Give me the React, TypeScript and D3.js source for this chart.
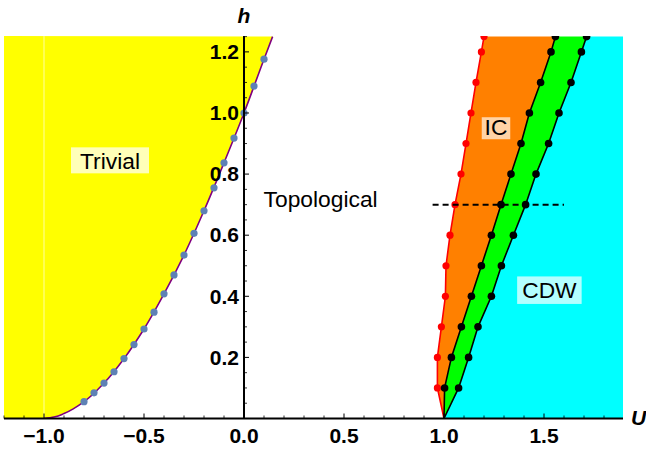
import React from "react";
import * as d3 from "d3";

// ---- data ----
// Trivial / Topological boundary: numerical points (blue dots)
const trivialU = [-0.8, -0.75, -0.7, -0.65, -0.6, -0.55, -0.5, -0.45, -0.4, -0.35, -0.3, -0.25, -0.2, -0.15, -0.1, -0.05, 0.0, 0.05, 0.1];
const trivialH = [0.055, 0.084, 0.116, 0.153, 0.196, 0.242, 0.293, 0.348, 0.408, 0.47, 0.535, 0.606, 0.68, 0.755, 0.837, 0.918, 1.0, 1.088, 1.176];
// analytic boundary curve (purple)
const curveU = [-1.0, -0.95, -0.9, -0.85, -0.8, -0.7, -0.6, -0.5, -0.4, -0.3, -0.2, -0.1, 0.0, 0.1, 0.143];
const curveH = [0.0, 0.005, 0.016, 0.033, 0.055, 0.116, 0.196, 0.293, 0.408, 0.535, 0.68, 0.837, 1.0, 1.176, 1.25];

// phase boundaries on the right
const boundaryH = [0.0, 0.1, 0.2, 0.3, 0.4, 0.5, 0.6, 0.7, 0.8, 0.9, 1.0, 1.1, 1.2, 1.25];
const redU = [1.0, 0.967, 0.967, 0.987, 1.007, 1.01, 1.03, 1.055, 1.085, 1.11, 1.135, 1.16, 1.187, 1.2];
const black1U = [1.0, 1.003, 1.037, 1.087, 1.137, 1.187, 1.237, 1.285, 1.335, 1.385, 1.427, 1.483, 1.535, 1.557];
const black2U = [1.0, 1.073, 1.123, 1.17, 1.237, 1.287, 1.347, 1.408, 1.46, 1.523, 1.575, 1.635, 1.687, 1.713];

// dashed cut
const cutH = 0.7;
const cutU = [0.943, 1.6];

const xDomain = [-1.2, 1.895];
const yDomain = [0, 1.252];
const xMajor = [-1.0, -0.5, 0.0, 0.5, 1.0, 1.5];
const xMajorLabels = ["\u22121.0", "\u22120.5", "0.0", "0.5", "1.0", "1.5"];
const yMajor = [0.2, 0.4, 0.6, 0.8, 1.0, 1.2];
const yMajorLabels = ["0.2", "0.4", "0.6", "0.8", "1.0", "1.2"];

const labelTexts = ["Trivial", "Topological", "IC", "CDW"];
const labelU = [-0.67, 0.383, 1.26, 1.527];
const labelH = [0.845, 0.72, 0.955, 0.42];
const labelBg = ["#FFFFB8", "none", "#FFD3A6", "#B3FFFF"];

export default function App() {
  const W = 646, H = 452;
  const x = d3.scaleLinear().domain(xDomain).range([4, 623]);
  const y = d3.scaleLinear().domain(yDomain).range([418.5, 36]);
  const x0 = x(xDomain[0]), x1 = x(xDomain[1]);
  const yTop = y(yDomain[1]), yBot = y(0);

  const line = d3.line<[number, number]>().x((d) => x(d[0])).y((d) => y(d[1]));
  const smooth = d3.line<[number, number]>().x((d) => x(d[0])).y((d) => y(d[1])).curve(d3.curveMonotoneY);

  const curvePts: [number, number][] = curveU.map((u, i) => [u, curveH[i]]);
  const redPts: [number, number][] = redU.map((u, i) => [u, boundaryH[i]]);
  const b1Pts: [number, number][] = black1U.map((u, i) => [u, boundaryH[i]]);
  const b2Pts: [number, number][] = black2U.map((u, i) => [u, boundaryH[i]]);

  const yellowPath =
    `M${x0},${yBot}L${x(curveU[0])},${yBot}` +
    smooth(curvePts)!.replace(/^M/, "L") +
    `L${x0},${yTop}Z`;
  const orangePath = line(redPts)! + line([...b1Pts].reverse())!.replace(/^M/, "L") + "Z";
  const greenPath = line(b1Pts)! + line([...b2Pts].reverse())!.replace(/^M/, "L") + "Z";
  const cyanPath =
    line(b2Pts)! + `L${x1},${y(boundaryH[boundaryH.length - 1])}L${x1},${yBot}Z`;

  const xMinor = d3.range(-12, 19).map((k) => k / 10).filter((v) => !xMajor.some((m) => Math.abs(m - v) < 1e-6));
  const yMinor = d3.range(1, 26).map((k) => k / 20).filter((v) => !yMajor.some((m) => Math.abs(m - v) < 1e-6));

  const labelFont = "'Liberation Sans', Arial, sans-serif";
  const boxW = [78, 0, 28.5, 64.5];
  const boxH = [26, 0, 22, 27.5];
  const boxDy = [0, 0, 1.5, 0];

  return (
    <div style={{ position: "absolute", left: 0, top: 0 }}>
      <svg width={W} height={H} style={{ display: "block", background: "#fff" }}>
        <defs>
          <clipPath id="plot">
            <rect x={x0} y={yTop} width={x1 - x0} height={yBot - yTop} />
          </clipPath>
        </defs>
        <g clipPath="url(#plot)">
          <path d={yellowPath} fill="#FFFF00" />
          <line x1={x(-1)} x2={x(-1)} y1={yTop} y2={yBot} stroke="#FFFFA0" strokeWidth={1} />
          <path d={orangePath} fill="#FF8000" />
          <path d={greenPath} fill="#00FF00" />
          <path d={cyanPath} fill="#00FFFF" />
          <path d={smooth(curvePts)!} fill="none" stroke="#800080" strokeWidth={1.6} />
          <path d={line(redPts)!} fill="none" stroke="#FF0000" strokeWidth={1.6} />
          <path d={line(b1Pts)!} fill="none" stroke="#000" strokeWidth={1.6} />
          <path d={line(b2Pts)!} fill="none" stroke="#000" strokeWidth={1.6} />
          {trivialU.map((u, i) => (
            <circle key={"t" + i} cx={x(u)} cy={y(trivialH[i])} r={3.6} fill="#5E81B5" />
          ))}
          {redPts.slice(1).map((p, i) => (
            <circle key={"r" + i} cx={x(p[0])} cy={y(p[1])} r={3.6} fill="#FF0000" />
          ))}
          {b1Pts.slice(1).map((p, i) => (
            <circle key={"b1" + i} cx={x(p[0])} cy={y(p[1])} r={3.8} fill="#000" />
          ))}
          {b2Pts.slice(1).map((p, i) => (
            <circle key={"b2" + i} cx={x(p[0])} cy={y(p[1])} r={3.8} fill="#000" />
          ))}
        </g>
        <line x1={x(cutU[0])} x2={x(cutU[1])} y1={y(cutH)} y2={y(cutH)} stroke="#000" strokeWidth={2} strokeDasharray="6,4" />

        {/* region labels */}
        {labelTexts.map((t, i) => {
          const cx = x(labelU[i]), cy = y(labelH[i]);
          return (
            <g key={t}>
              {labelBg[i] !== "none" && (
                <rect x={cx - boxW[i] / 2} y={cy - boxH[i] / 2 + boxDy[i]} width={boxW[i]} height={boxH[i]} fill={labelBg[i]} />
              )}
              <text x={cx} y={cy + 8.3} textAnchor="middle" fontFamily={labelFont} fontSize={22.8} fill="#000">
                {t}
              </text>
            </g>
          );
        })}

        {/* axes */}
        <line x1={x0} x2={x1} y1={yBot} y2={yBot} stroke="#000" strokeWidth={2} />
        <line x1={x(0)} x2={x(0)} y1={yTop} y2={yBot} stroke="#000" strokeWidth={2} />
        {xMajor.map((v) => (
          <line key={"xM" + v} x1={x(v)} x2={x(v)} y1={yBot} y2={yBot - 5} stroke="#000" strokeWidth={1} />
        ))}
        {xMinor.map((v) => (
          <line key={"xm" + v} x1={x(v)} x2={x(v)} y1={yBot} y2={yBot - 3} stroke="#000" strokeWidth={0.8} />
        ))}
        {yMajor.map((v) => (
          <line key={"yM" + v} x1={x(0)} x2={x(0) + 5} y1={y(v)} y2={y(v)} stroke="#000" strokeWidth={1} />
        ))}
        {yMinor.map((v) => (
          <line key={"ym" + v} x1={x(0)} x2={x(0) + 3} y1={y(v)} y2={y(v)} stroke="#000" strokeWidth={0.8} />
        ))}
        {xMajor.map((v, i) => (
          <text key={"xl" + v} x={x(v)} y={443} textAnchor="middle" fontFamily={labelFont} fontWeight="bold" fontSize={21} fill="#000">
            {xMajorLabels[i]}
          </text>
        ))}
        {yMajor.map((v, i) => (
          <text key={"yl" + v} x={x(0) - 5} y={y(v) + 7.3} textAnchor="end" fontFamily={labelFont} fontWeight="bold" fontSize={21} fill="#000">
            {yMajorLabels[i]}
          </text>
        ))}
        <text x={x(0)} y={23} textAnchor="middle" fontFamily={labelFont} fontWeight="bold" fontStyle="italic" fontSize={21} fill="#000">h</text>
        <text x={631} y={425} textAnchor="start" fontFamily={labelFont} fontWeight="bold" fontStyle="italic" fontSize={21} fill="#000">U</text>
      </svg>
    </div>
  );
}
